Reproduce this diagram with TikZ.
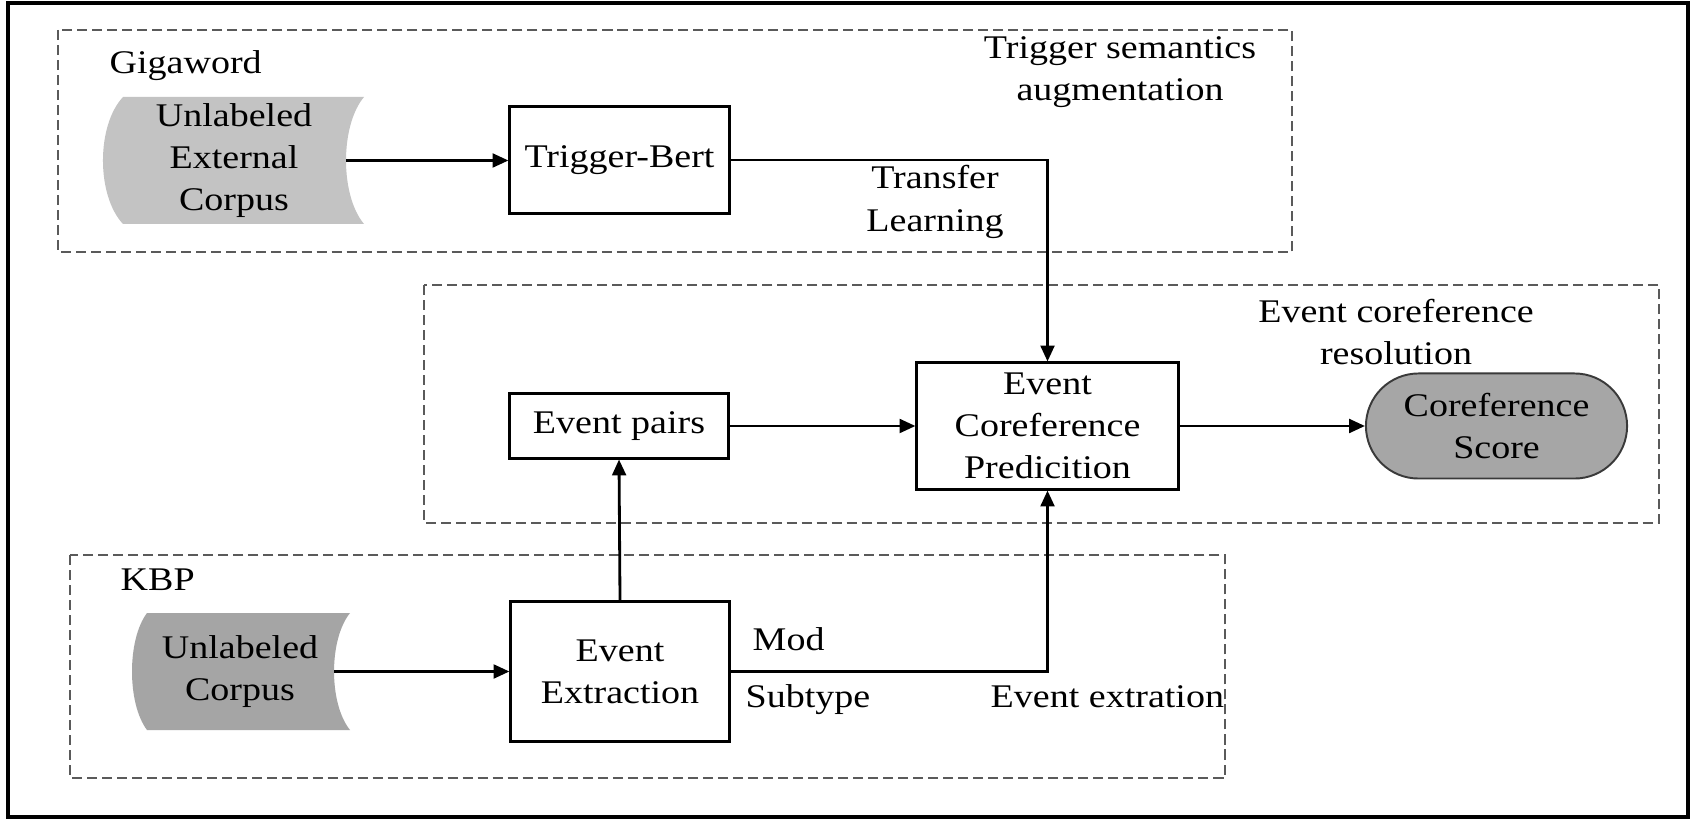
\documentclass[tikz,border=0pt]{standalone}
\usepackage{fontspec}
\setmainfont{Liberation Serif}[FakeStretch=1.15]
\usetikzlibrary{arrows.meta,shapes.misc,calc,backgrounds}
\definecolor{lightstore}{HTML}{C3C3C3}
\definecolor{darkstore}{HTML}{A5A5A5}
\definecolor{termfill}{HTML}{A6A6A6}
\definecolor{termline}{HTML}{3A3A3A}
\definecolor{grpline}{HTML}{5A5A5A}
\begin{document}
\begin{tikzpicture}[x=0.01cm,y=-0.01cm,
  font=\fontsize{9.4pt}{12pt}\selectfont,
  box/.style={draw, line width=0.85pt, fill=white, inner sep=0pt, align=center},
  arr/.style={line width=0.8pt, -{Triangle[length=4.5pt,width=3.9pt]}},
  grp/.style={draw=grpline, line width=0.6pt, dash pattern=on 2.85pt off 1.42pt},
  lbl/.style={inner sep=0pt, align=center},
  term/.style={rounded rectangle, draw=termline, line width=0.55pt, fill=termfill, inner sep=0pt, align=center}]
\useasboundingbox (0,0) rectangle (1692,819);
\draw[line width=0.9pt] (8,3) rectangle (1688,817);

% group frames
\draw[grp] (58,30) rectangle (1292,252);
\draw[grp] (424,285) rectangle (1659,523);
\draw[grp] (70,555) rectangle (1225,778);

% group labels
\node[lbl, anchor=base west] (gigaword) at (109,74) {Gigaword};
\node[lbl] (tsa) at (1120,72) {Trigger semantics\\augmentation};
\node[lbl] (ecr) at (1396,332) {Event coreference\\resolution};
\node[lbl, anchor=base west] (kbp) at (120,590) {KBP};

% storage nodes (text)
\node[lbl] (s1) at (234,160.5) {Unlabeled\\External\\Corpus};
\node[lbl] (s2) at (240,671.5) {Unlabeled\\Corpus};

% process boxes
\node[box, minimum width=2.19cm, minimum height=1.06cm] (tb) at (619.5,160) {Trigger-Bert};
\node[box, minimum width=2.18cm, minimum height=0.64cm] (ep) at (619,426) {Event pairs};
\node[box, minimum width=2.18cm, minimum height=1.39cm] (ee) at (620,671.5) {Event\\Extraction};
\node[box, minimum width=2.61cm, minimum height=1.26cm] (ecp) at (1047.5,426) {Event\\Coreference\\Predicition};
\node[term, minimum width=2.61cm, minimum height=1.05cm] (cs) at (1496.5,426) {Coreference\\Score};

% storage shapes and page background
\begin{scope}[on background layer]
\fill[white] (0,0) rectangle (1692,819);
\fill[lightstore] ($(s1)+(-111,-63.5)$) -- ($(s1)+(130,-63.5)$)
  .. controls ($(s1)+(106,-35)$) and ($(s1)+(106,35)$) .. ($(s1)+(130,63.5)$) -- ($(s1)+(-111,63.5)$)
  .. controls ($(s1)+(-137.7,35)$) and ($(s1)+(-137.7,-35)$) .. cycle;
\fill[darkstore] ($(s2)+(-93,-58.5)$) -- ($(s2)+(110,-58.5)$)
  .. controls ($(s2)+(88.7,-32)$) and ($(s2)+(88.7,32)$) .. ($(s2)+(110,58.5)$) -- ($(s2)+(-93,58.5)$)
  .. controls ($(s2)+(-113,32)$) and ($(s2)+(-113,-32)$) .. cycle;
\end{scope}
\coordinate (s1out) at ($(s1)+(112,0)$);
\coordinate (s2out) at ($(s2)+(94,0)$);

% connectors
\draw[arr] (s1out) -- (s1out -| tb.west);
\draw[arr] (tb.east) -| (ecp.north);
\draw[arr] (ep.east) -- (ecp.west);
\draw[arr] (ecp.east) -- (cs.west);
\draw[arr] (s2out) -- (s2out -| ee.west);
\draw[arr] (ee.north) -- (ep.south);
\draw[arr] (ee.east) -| (ecp.south);

% connector labels
\node[lbl] (tl) at (935,202) {Transfer\\Learning};
\node[lbl, anchor=base west] (mod) at (752,650) {Mod};
\node[lbl, anchor=base west] (sub) at (745,707) {Subtype};
\node[lbl, anchor=base west] (evx) at (990,707) {Event extration};
\end{tikzpicture}
\end{document}
